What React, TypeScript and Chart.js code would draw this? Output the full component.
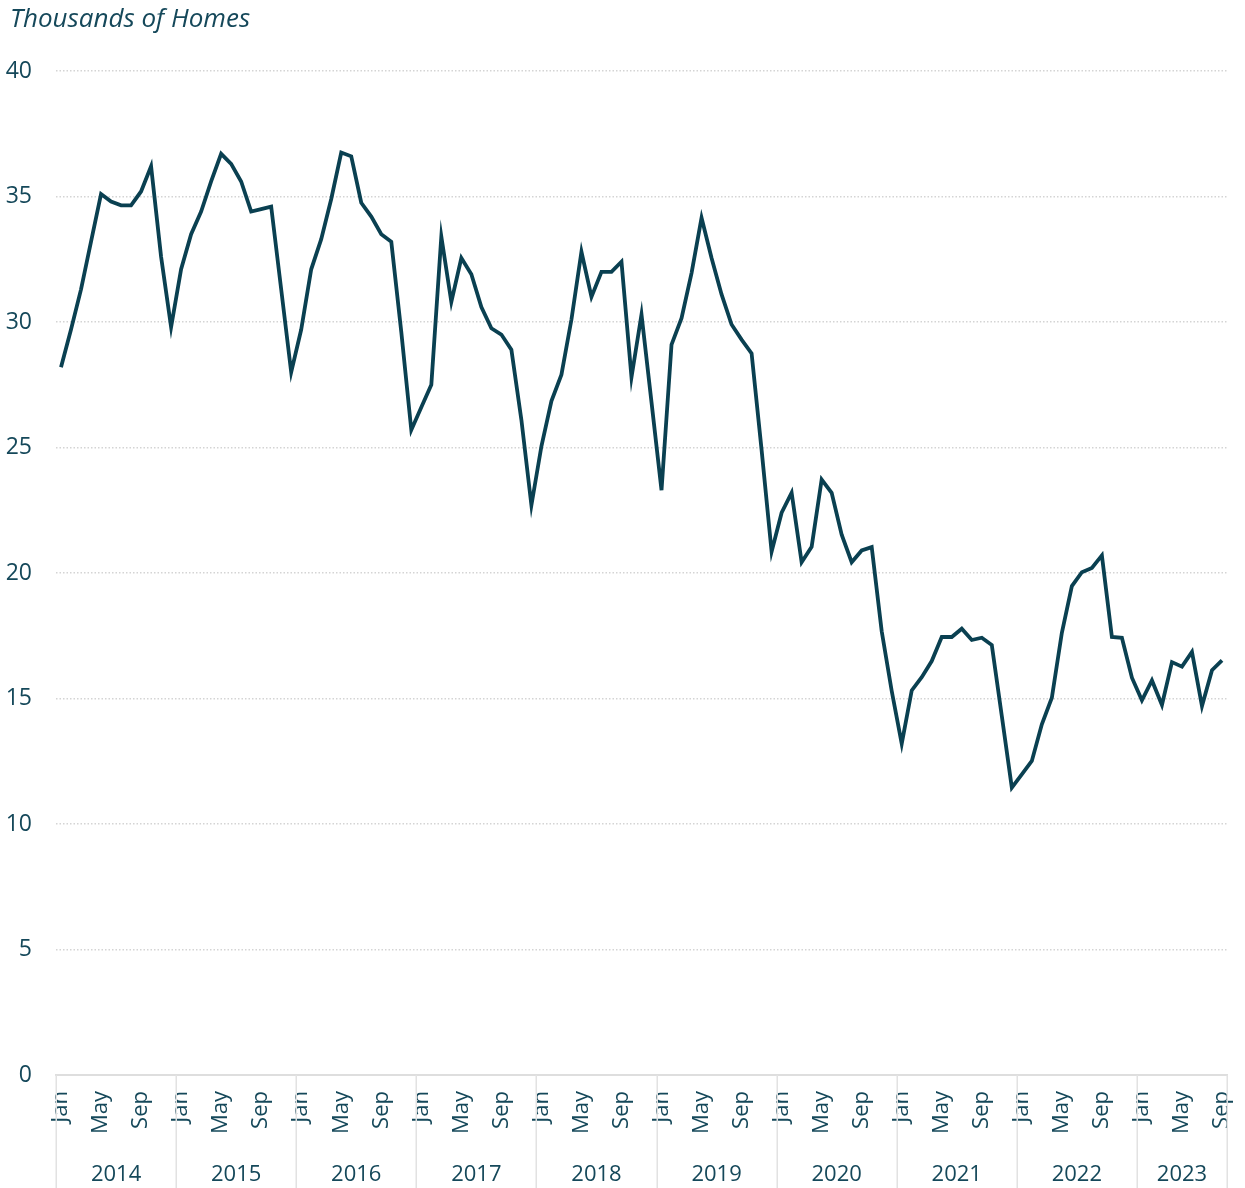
import React, { useEffect, useRef } from "react";
import { Chart, registerables } from "chart.js";

Chart.register(...registerables);

const TITLE = "Thousands of Homes";
const YEARS = ["2014", "2015", "2016", "2017", "2018", "2019", "2020", "2021", "2022", "2023"];
const MONTHS = ["Jan", "Feb", "Mar", "Apr", "May", "Jun", "Jul", "Aug", "Sep", "Oct", "Nov", "Dec"];
const SHOWN_MONTHS = ["Jan", "May", "Sep"];
const Y_MIN = 0;
const Y_MAX = 40;
const Y_STEP = 5;

// Thousands of homes, monthly
const v2014 = [28.2, 29.7, 31.3, 33.2, 35.1, 34.8, 34.65, 34.65, 35.2, 36.2, 32.6, 29.8];
const v2015 = [32.1, 33.5, 34.4, 35.6, 36.7, 36.3, 35.6, 34.4, 34.5, 34.6, 31.3, 28.0];
const v2016 = [29.7, 32.1, 33.3, 34.9, 36.75, 36.6, 34.75, 34.2, 33.5, 33.2, 29.6, 25.7];
const v2017 = [26.6, 27.5, 33.4, 30.8, 32.55, 31.9, 30.6, 29.75, 29.5, 28.9, 26.1, 22.7];
const v2018 = [25.05, 26.85, 27.9, 30.1, 32.8, 31.0, 32.0, 32.0, 32.4, 27.8, 30.3, 26.8];
const v2019 = [23.3, 29.1, 30.15, 31.95, 34.15, 32.55, 31.1, 29.9, 29.3, 28.75, 24.9, 20.85];
const v2020 = [22.4, 23.2, 20.43, 21.04, 23.72, 23.19, 21.53, 20.43, 20.9, 21.03, 17.68, 15.3];
const v2021 = [13.2, 15.32, 15.85, 16.49, 17.45, 17.45, 17.78, 17.33, 17.42, 17.13, 14.3, 11.45];
const v2022 = [11.98, 12.51, 13.97, 15.03, 17.62, 19.48, 20.03, 20.2, 20.7, 17.45, 17.42, 15.83];
const v2023 = [14.93, 15.72, 14.74, 16.45, 16.27, 16.86, 14.7, 16.13, 16.52];

const YEAR_VALUES = [v2014, v2015, v2016, v2017, v2018, v2019, v2020, v2021, v2022, v2023];

const TEXT_COLOR = "#15485a";
const LINE_COLOR = "#0a4051";
const FONT = "'Open Sans', 'Noto Sans', sans-serif";

export default function App() {
  const canvasRef = useRef<HTMLCanvasElement | null>(null);

  useEffect(() => {
    document.body.style.margin = "0";
    const canvas = canvasRef.current;
    if (!canvas) return;

    const labels: string[] = [];
    const values: number[] = [];
    YEAR_VALUES.forEach((arr) => {
      arr.forEach((v, mi) => {
        labels.push(MONTHS[mi]);
        values.push(v);
      });
    });

    const decorPlugin = {
      id: "decor",
      afterDraw(chart: any) {
        const ctx = chart.ctx as CanvasRenderingContext2D;
        const xs = chart.scales.x;
        const area = chart.chartArea;
        const half = (xs.getPixelForValue(1) - xs.getPixelForValue(0)) / 2;
        ctx.save();
        // title
        ctx.fillStyle = TEXT_COLOR;
        ctx.font = `italic 26px ${FONT}`;
        ctx.textAlign = "left";
        ctx.textBaseline = "alphabetic";
        ctx.fillText(TITLE, 10, 27);

        // year separators and labels
        const bounds: number[] = [];
        let idx = 0;
        YEAR_VALUES.forEach((arr) => {
          bounds.push(xs.getPixelForValue(idx) - half);
          idx += arr.length;
        });
        bounds.push(area.right);
        ctx.strokeStyle = "#e2e2e2";
        ctx.lineWidth = 1.5;
        bounds.forEach((b) => {
          ctx.beginPath();
          ctx.moveTo(Math.round(b) + 0.25, area.bottom);
          ctx.lineTo(Math.round(b) + 0.25, chart.height);
          ctx.stroke();
        });
        ctx.font = `22px ${FONT}`;
        ctx.textAlign = "center";
        ctx.textBaseline = "middle";
        ctx.fillStyle = TEXT_COLOR;
        YEARS.forEach((y, i) => {
          const cx = (bounds[i] + bounds[i + 1]) / 2;
          ctx.fillText(y, cx, 1175);
        });
        ctx.restore();
      },
    };

    const chart = new Chart(canvas, {
      type: "line",
      data: {
        labels,
        datasets: [
          {
            data: values,
            borderColor: LINE_COLOR,
            borderWidth: 3.8,
            pointRadius: 0,
            tension: 0,
            fill: false,
          },
        ],
      },
      options: {
        animation: false,
        responsive: false,
        maintainAspectRatio: false,
        devicePixelRatio: 1,
        layout: { padding: { top: 71, right: 18, left: 0, bottom: 0 } },
        plugins: {
          legend: { display: false },
          tooltip: { enabled: false },
          title: { display: false },
        },
        scales: {
          x: {
            type: "category",
            offset: true,
            grid: { display: false, drawTicks: false },
            border: { display: true, color: "#dedede", width: 2 },
            ticks: {
              autoSkip: false,
              maxRotation: 90,
              minRotation: 90,
              padding: 16,
              color: TEXT_COLOR,
              font: { family: FONT, size: 22 },
              callback: (_v: any, i: number) => (SHOWN_MONTHS.includes(labels[i]) ? labels[i] : ""),
            },
            afterFit: (scale: any) => {
              scale.height = 113;
              scale.paddingLeft = 0;
              scale.paddingRight = 0;
            },
          },
          y: {
            min: Y_MIN,
            max: Y_MAX,
            border: { display: false, dash: [1.5, 2] },
            grid: {
              drawTicks: false,
              color: (c: any) => (c.tick && c.tick.value === 0 ? "rgba(0,0,0,0)" : "#d4d4d4"),
              lineWidth: 1.5,
            },
            ticks: {
              stepSize: Y_STEP,
              padding: 24,
              color: TEXT_COLOR,
              font: { family: FONT, size: 23 },
            },
            afterFit: (scale: any) => {
              scale.width = 56;
            },
          },
        },
      },
      plugins: [decorPlugin],
    } as any);

    return () => chart.destroy();
  }, []);

  return (
    <div style={{ width: 1245, height: 1188 }}>
      <canvas ref={canvasRef} width={1245} height={1188} style={{ display: "block" }} />
    </div>
  );
}
